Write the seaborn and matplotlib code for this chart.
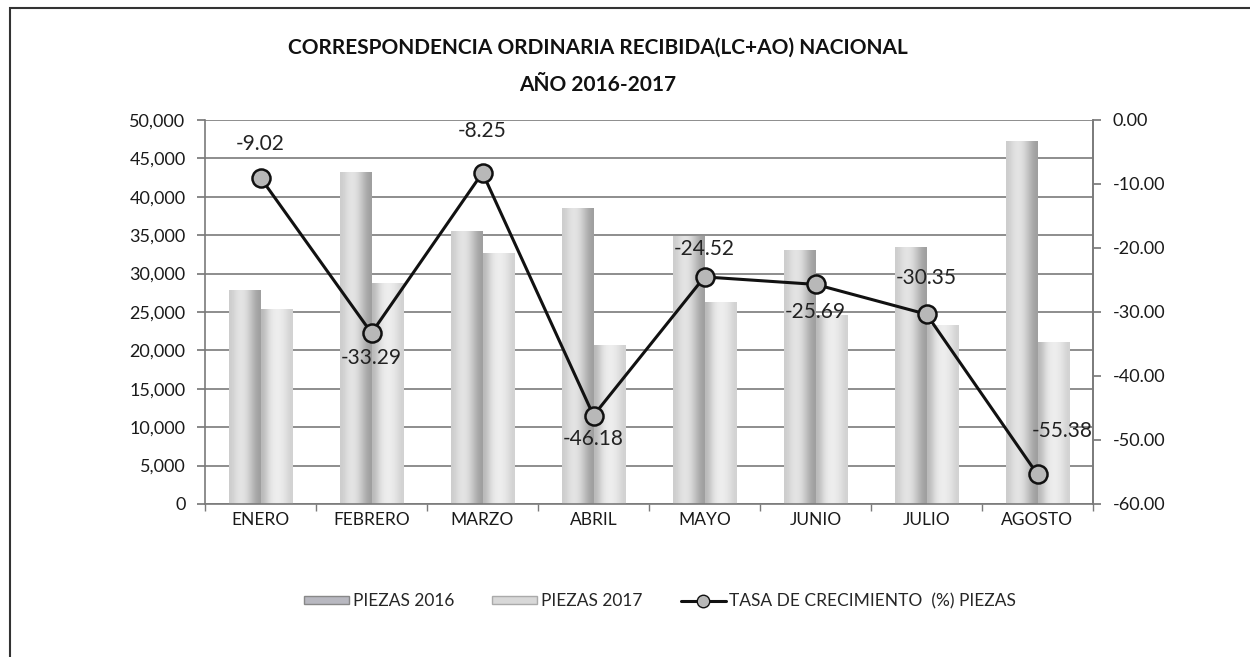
import matplotlib
matplotlib.use("Agg")
import matplotlib.pyplot as plt
from matplotlib.patches import Patch, Rectangle
from matplotlib.lines import Line2D
from matplotlib.ticker import FuncFormatter, FixedLocator
import seaborn as sns
import pandas as pd
import numpy as np

meses = ['ENERO', 'FEBRERO', 'MARZO', 'ABRIL', 'MAYO', 'JUNIO', 'JULIO', 'AGOSTO']
piezas_2016 = [27900, 43200, 35600, 38500, 34900, 33100, 33500, 47200]
piezas_2017 = [25380, 28820, 32660, 20720, 26340, 24600, 23330, 21060]
tasa = [-9.02, -33.29, -8.25, -46.18, -24.52, -25.69, -30.35, -55.38]
etiquetas_tasa = ['-9.02', '-33.29', '-8.25', '-46.18', '-24.52', '-25.69', '-30.35', '-55.38']

# label placement (offset in points) for the growth-rate labels
label_off = [(0, 24), (0, -18), (0, 30), (0, -17), (0, 20), (0, -20), (0, 26), (18, 31)]

sns.set_theme(style="white")
narrow = ['Liberation Sans Narrow', 'Lato', 'DejaVu Sans']
plt.rcParams['font.family'] = ['Lato', 'DejaVu Sans']

df = pd.DataFrame({
    'mes': meses * 2,
    'piezas': piezas_2016 + piezas_2017,
    'serie': ['PIEZAS 2016'] * len(meses) + ['PIEZAS 2017'] * len(meses),
})

fig = plt.figure(figsize=(12.5, 6.57), dpi=100)
ax = fig.add_axes([0.164, 0.2329, 0.7104, 0.5845])

sns.barplot(data=df, x='mes', y='piezas', hue='serie', order=meses,
            palette=['#c4c4cc', '#dcdcdc'], width=0.56, ax=ax,
            edgecolor='none', legend=False)

# cylinder-like shading on each bar
grad_a = np.array([[0.80, 0.88, 0.90, 0.84, 0.72, 0.62]])
grad_b = np.array([[0.72, 0.87, 0.93, 0.93, 0.89, 0.82]])
for i, p in enumerate(list(ax.patches)):
    x0, y0 = p.get_x(), p.get_y()
    w, h = p.get_width(), p.get_height()
    if h <= 0:
        continue
    g = grad_a if i < len(meses) else grad_b
    im = ax.imshow(g, cmap='gray', vmin=0, vmax=1, aspect='auto',
                   extent=[x0, x0 + w, y0, y0 + h], interpolation='bicubic', zorder=2)
    im.set_clip_path(p)
ax.set_xlim(-0.5, len(meses) - 0.5)
ax.set_ylim(0, 50000)

ax.set_axisbelow(True)
ax.yaxis.set_major_locator(FixedLocator(np.arange(0, 50001, 5000)))
ax.yaxis.grid(True, color='#7a7a7a', linewidth=1.2)
ax.yaxis.set_major_formatter(FuncFormatter(lambda v, _: f'{int(v):,}'))
ax.set_xlabel('')
ax.set_ylabel('')
ax.spines['top'].set_visible(False)
for s in ['left', 'bottom', 'right']:
    ax.spines[s].set_color('#7a7a7a')
    ax.spines[s].set_linewidth(1.2)
ax.tick_params(axis='y', which='major', left=True, length=6, color='#7a7a7a',
               labelsize=13, pad=8, labelcolor='#1a1a1a')
ax.set_xticks(range(len(meses)))
ax.set_xticklabels(meses, fontsize=12.5, family=narrow, color='#1a1a1a')
ax.tick_params(axis='x', length=0, pad=6)
ax.set_xticks(np.arange(-0.5, len(meses), 1.0), minor=True)
ax.tick_params(axis='x', which='minor', bottom=True, length=5, color='#7a7a7a')

ax2 = ax.twinx()
sns.lineplot(x=np.arange(len(meses)), y=tasa, ax=ax2, color='#111111',
             linewidth=2.2, marker='o', markersize=13, markerfacecolor='#b8b8b8',
             markeredgecolor='#111111', markeredgewidth=1.8, zorder=5)
ax2.set_ylim(-60, 0)
ax2.set_xlim(-0.5, len(meses) - 0.5)
ax2.yaxis.set_major_locator(FixedLocator(np.arange(-60, 1, 10)))
ax2.yaxis.set_major_formatter(FuncFormatter(lambda v, _: f'{v:.2f}'))
ax2.tick_params(axis='y', right=True, length=6, color='#7a7a7a', labelsize=13,
                pad=8, labelcolor='#1a1a1a')
ax2.grid(False)
for s in ['top', 'left', 'bottom']:
    ax2.spines[s].set_visible(False)
ax2.spines['right'].set_color('#7a7a7a')
ax2.spines['right'].set_linewidth(1.2)

for i, (v, t) in enumerate(zip(tasa, etiquetas_tasa)):
    ax2.annotate(t, (i, v), xytext=label_off[i], textcoords='offset points',
                 ha='center', va='center', fontsize=15, color='#222222')

fig.text(0.478, 0.928, 'CORRESPONDENCIA ORDINARIA RECIBIDA(LC+AO) NACIONAL',
         ha='center', va='center', fontsize=15, fontweight='bold', family=narrow,
         color='#111111')
fig.text(0.478, 0.870, 'AÑO 2016-2017', ha='center', va='center', fontsize=15,
         fontweight='bold', family=narrow, color='#111111')

handles = [
    Patch(facecolor='#b8b8c0', edgecolor='#888888', label='PIEZAS 2016'),
    Patch(facecolor='#d8d8d8', edgecolor='#aaaaaa', label='PIEZAS 2017'),
    Line2D([0], [0], color='#111111', linewidth=2.2, marker='o', markersize=9,
           markerfacecolor='#b8b8b8', markeredgecolor='#111111',
           label='TASA DE CRECIMIENTO  (%) PIEZAS'),
]
leg = fig.legend(handles=handles, loc='center', bbox_to_anchor=(0.528, 0.085),
                 ncol=3, frameon=False, prop={'family': narrow, 'size': 12.5},
                 handlelength=2.6, handleheight=0.35, columnspacing=2.2,
                 handletextpad=0.2)

# outer chart frame
fig.patches.append(Rectangle((10 / 1250, -0.01), 1.02, 1 - 8 / 657 + 0.01,
                             transform=fig.transFigure, fill=False,
                             edgecolor='#333333', linewidth=1.5))

fig.savefig('out.png', dpi=100)
